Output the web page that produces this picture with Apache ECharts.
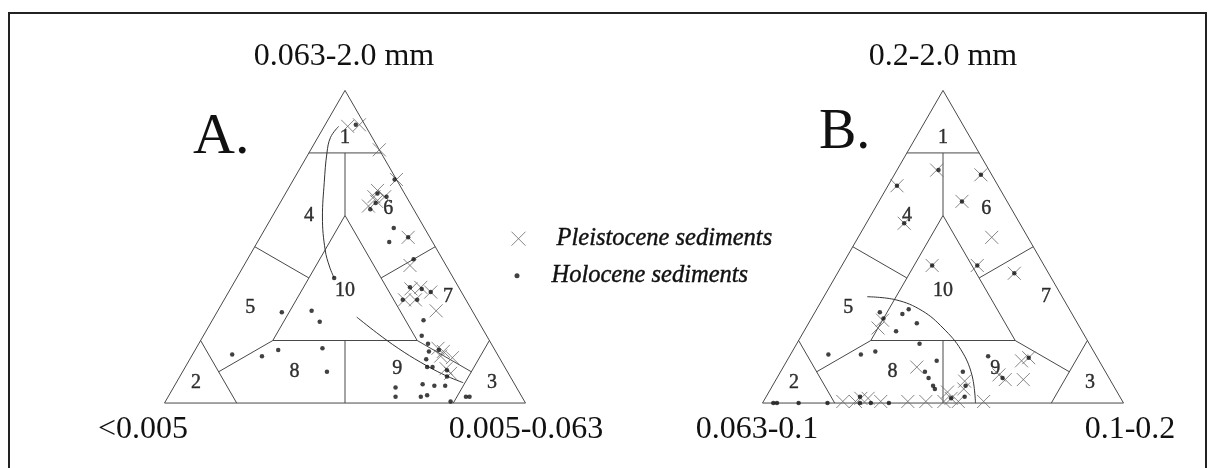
<!DOCTYPE html>
<html>
<head>
<meta charset="utf-8">
<title>Ternary diagrams A and B</title>
<script src="https://cdn.jsdelivr.net/npm/echarts@6/dist/echarts.min.js"></script>
<style>
  html, body { margin: 0; padding: 0; background: #fff; }
  #plot { width: 1214px; height: 468px; }
</style>
</head>
<body>
<div id="plot"></div>
<script>
"use strict";

// Corner labels: [top, bottom left, bottom right].
var cornersA = ['0.063-2.0 mm', '<0.005', '0.005-0.063'];
var cornersB = ['0.2-2.0 mm', '0.063-0.1', '0.1-0.2'];

// Every composition below is [top %, bottom-left %, bottom-right %].
var fieldLines = [
  [[100, 0, 0], [0, 100, 0], [0, 0, 100], [100, 0, 0]],
  [[80, 20, 0], [80, 0, 20]],
  [[80, 10, 10], [60, 20, 20]],
  [[60, 20, 20], [20, 60, 20], [20, 20, 60], [60, 20, 20]],
  [[20, 40, 40], [0, 50, 50]],
  [[50, 50, 0], [40, 40, 20]],
  [[50, 0, 50], [40, 20, 40]],
  [[20, 60, 20], [10, 80, 10]],
  [[20, 20, 60], [10, 10, 80]],
  [[20, 80, 0], [0, 80, 20]],
  [[20, 0, 80], [0, 20, 80]]
];
var fieldNames = ['1', '4', '6', '5', '10', '7', '8', '9', '2', '3'];
var fieldCentres = [
  [85, 7.5, 7.5], [60, 30, 10], [62, 7, 31], [30.5, 61, 8.5], [36, 32, 32],
  [34, 4.5, 61.5], [10, 59, 31], [11, 30, 59], [6.5, 88, 5.5], [6.5, 6, 87.5]
];

var pleistoceneA = [
  [88.5, 5, 6.5], [89, 1.5, 9.5], [81, 0, 19], [71.5, 0, 28.5],
  [68, 7, 25], [66, 6, 28], [66, 9, 25], [63, 12, 25], [64.5, 9, 26.5],
  [53, 6, 41], [44, 10, 46],
  [36.5, 13.5, 50], [37, 10.5, 52.5], [35.5, 8.5, 56], [33, 17, 50], [33, 14, 53], [29.5, 10, 60.5],
  [17.5, 15.5, 67], [16.5, 14.5, 69], [14.5, 13, 72.5], [11, 16.5, 72.5], [9.5, 16, 74.5], [15, 16, 69]
];
var holoceneA = [
  [89, 2.5, 8.5], [71.5, 0.5, 28], [67, 7.5, 25.5], [66, 5.5, 28.5], [64, 9.5, 26.5], [62, 12, 26],
  [56, 8.5, 35.5], [51.5, 12, 36.5], [53, 6, 41], [46, 8, 46],
  [37, 13.5, 49.5], [36.5, 10.5, 53], [35.5, 8.5, 56], [33, 17.5, 49.5], [33, 13.5, 53.5],
  [26.5, 15, 58.5], [21.5, 18, 60.5], [19, 17.5, 63.5], [17, 15.5, 67.5], [16.5, 18.5, 65], [14, 20.5, 65.5],
  [11.5, 21.5, 67], [11.5, 20, 68.5], [10.5, 16.5, 73], [8.5, 17.5, 74],
  [5, 33.5, 61.5], [2, 35, 63], [6, 25.5, 68.5], [5.5, 22.5, 72], [5.5, 19.5, 75], [2, 28, 70], [2.5, 26, 71.5],
  [0.5, 20.5, 79], [2, 15.5, 82.5], [2, 14.5, 83.5],
  [40, 33, 27], [29, 53, 18], [29.5, 44.5, 26], [26, 44, 30],
  [15.5, 73.5, 11], [15, 65.5, 19.5], [17, 60, 23], [17.5, 47.5, 35], [10, 50, 40]
];
var curvesA = [
  [[88.5, 7.5, 4], [85, 11.5, 3.5], [80, 15, 5], [70.5, 20.5, 9], [59.5, 26.5, 14], [49, 31, 20], [43.5, 32.5, 24], [40, 33, 27]],
  [[27.5, 33, 39.5], [22.5, 30, 47.5], [17.5, 26.5, 56], [13, 22.5, 64.5], [9, 18, 73], [6.5, 14, 79.5]]
];

var pleistoceneB = [
  [69.5, 28, 2.5], [57.5, 32, 10.5], [74.5, 14.5, 11], [73, 3, 24], [64.5, 12.5, 23], [53, 10, 37],
  [44, 18.5, 37.5], [41.5, 9.5, 49], [44, 31, 25],
  [26.5, 53.5, 20], [24, 56, 20], [11.5, 51.5, 37],
  [13.5, 21.5, 65], [14.5, 19, 66.5], [7.5, 24, 68.5], [7.5, 29, 63.5], [9, 30, 61],
  [7, 40.5, 52.5], [4.5, 42, 53.5], [3.5, 47, 49.5], [1.5, 47, 51.5],
  [0.5, 77.5, 22], [0.5, 74, 25.5], [1.5, 72, 26.5], [1.5, 70, 28.5], [0.5, 67, 32.5], [0.5, 59.5, 40],
  [0.5, 54.5, 45], [0.5, 49.5, 50], [0.5, 45.5, 54], [0.5, 38.5, 61]
];
var holoceneB = [
  [69.5, 28, 2.5], [57.5, 32, 10.5], [74.5, 14, 11.5], [73, 3, 24], [64.5, 12.5, 23], [44, 18.5, 37.5],
  [41.5, 9.5, 49], [44, 31, 25],
  [29, 53, 18], [28.5, 47, 24.5], [30, 44.5, 25.5], [25.5, 44.5, 30], [23, 51.5, 25.5], [27, 53, 20],
  [15.5, 74, 10.5], [15.5, 65, 19.5], [16.5, 60.5, 23], [19, 47, 34], [13.5, 45, 41.5], [10, 50, 40],
  [8, 50, 42], [5.5, 50, 44.5], [4.5, 50, 45.5],
  [15, 30, 55], [14.5, 19, 66.5], [8, 29.5, 62.5], [10, 39.5, 50.5], [5.5, 41, 53.5], [2, 43, 55], [1.5, 47, 51.5],
  [0, 97, 3], [0, 96, 4], [0, 90, 10], [0, 82, 18], [0, 73, 27], [2, 72, 26], [0, 70, 30], [0, 65, 35]
];
var curvesB = [
  [[34, 54, 12], [33, 46.5, 20.5], [29.5, 41, 29.5], [24, 38, 38], [17, 36.5, 46.5], [9, 37.5, 53.5], [0, 41, 59]]
];

var H = Math.sqrt(3) / 2;
var crossPath = 'path://M0,0L10,10M10,0L0,10';
var serif = '"Liberation Serif", "DejaVu Serif", serif';

// Ternary composition -> x,y inside a unit-side triangle (in percent).
function toXY(p) {
  return [p[2] + p[0] / 2, p[0] * H];
}

function buildSeries(idx, pleis, holo, curves) {
  var out = [];
  fieldLines.forEach(function (seg) {
    out.push({
      type: 'line', xAxisIndex: idx, yAxisIndex: idx, data: seg.map(toXY),
      symbol: 'none', clip: false, silent: true, z: 2,
      lineStyle: { color: '#484848', width: 1 }
    });
  });
  curves.forEach(function (c) {
    out.push({
      type: 'line', xAxisIndex: idx, yAxisIndex: idx, data: c.map(toXY),
      symbol: 'none', smooth: 0.4, clip: false, silent: true, z: 2,
      lineStyle: { color: '#333', width: 1 }
    });
  });
  out.push({
    type: 'scatter', xAxisIndex: idx, yAxisIndex: idx, clip: false, silent: true, z: 3,
    data: fieldNames.map(function (n, i) { return { name: n, value: toXY(fieldCentres[i]) }; }),
    symbolSize: 1, itemStyle: { color: 'rgba(0,0,0,0)' },
    label: {
      show: true, position: 'inside', formatter: '{b}', fontFamily: serif, fontSize: 20,
      color: '#000', textBorderColor: '#000', textBorderWidth: 0.4
    }
  });
  out.push({
    name: 'Pleistocene sediments', type: 'scatter', xAxisIndex: idx, yAxisIndex: idx,
    clip: false, z: 4, data: pleis.map(toXY), symbol: crossPath, symbolSize: 13,
    itemStyle: { color: 'rgba(0,0,0,0)', borderColor: '#666', borderWidth: 1 }
  });
  out.push({
    name: 'Holocene sediments', type: 'scatter', xAxisIndex: idx, yAxisIndex: idx,
    clip: false, z: 5, data: holo.map(toXY), symbol: 'circle', symbolSize: 4.5,
    itemStyle: { color: '#111' }
  });
  return out;
}

var side = 361, gridTop = 90.4;
var axisX = { type: 'value', min: 0, max: 100, show: false };
var axisY = { type: 'value', min: 0, max: 100 * H, show: false };

function text(str, x, y, size, align) {
  return {
    type: 'text', x: x, y: y, silent: true,
    style: {
      text: str, font: size + 'px ' + serif, fill: '#111',
      align: align, verticalAlign: 'middle', textAlign: align, textVerticalAlign: 'middle'
    }
  };
}

var legendText = {
  fontFamily: serif, fontStyle: 'italic', fontSize: 24.5, color: '#111',
  textBorderColor: '#111', textBorderWidth: 0.4
};

var chart = echarts.init(document.getElementById('plot'), null, { renderer: 'canvas' });
chart.setOption({
  backgroundColor: '#fff',
  animation: false,
  grid: [
    { left: 164.5, top: gridTop, width: side, height: side * H },
    { left: 762.5, top: gridTop, width: side, height: side * H }
  ],
  xAxis: [Object.assign({ gridIndex: 0 }, axisX), Object.assign({ gridIndex: 1 }, axisX)],
  yAxis: [Object.assign({ gridIndex: 0 }, axisY), Object.assign({ gridIndex: 1 }, axisY)],
  legend: [{
    left: 511, top: 226, padding: 0, itemWidth: 14, itemHeight: 14, selectedMode: false,
    data: [{ name: 'Pleistocene sediments', icon: crossPath,
      itemStyle: { color: 'rgba(0,0,0,0)', borderColor: '#666', borderWidth: 1 } }],
    textStyle: Object.assign({ padding: [0, 0, 0, 26] }, legendText)
  }, {
    left: 514.5, top: 263, padding: 0, itemWidth: 5, itemHeight: 5, selectedMode: false,
    data: [{ name: 'Holocene sediments', icon: 'circle', itemStyle: { color: '#111' } }],
    textStyle: Object.assign({ padding: [0, 0, 0, 27] }, legendText)
  }],
  graphic: [
    { type: 'rect', silent: true, shape: { x: 9, y: 13, width: 1197, height: 470 },
      style: { fill: 'none', stroke: '#222', lineWidth: 2 } },
    text(cornersA[0], 344, 57, 32, 'center'),
    text(cornersA[1], 143, 430, 32, 'center'),
    text(cornersA[2], 526, 430, 32, 'center'),
    text(cornersB[0], 943, 57, 32, 'center'),
    text(cornersB[1], 757, 430, 32, 'center'),
    text(cornersB[2], 1130, 430, 32, 'center'),
    text('A.', 193, 138, 58, 'left'),
    text('B.', 819, 133, 56, 'left')
  ],
  series: buildSeries(0, pleistoceneA, holoceneA, curvesA)
    .concat(buildSeries(1, pleistoceneB, holoceneB, curvesB))
});
</script>
</body>
</html>
